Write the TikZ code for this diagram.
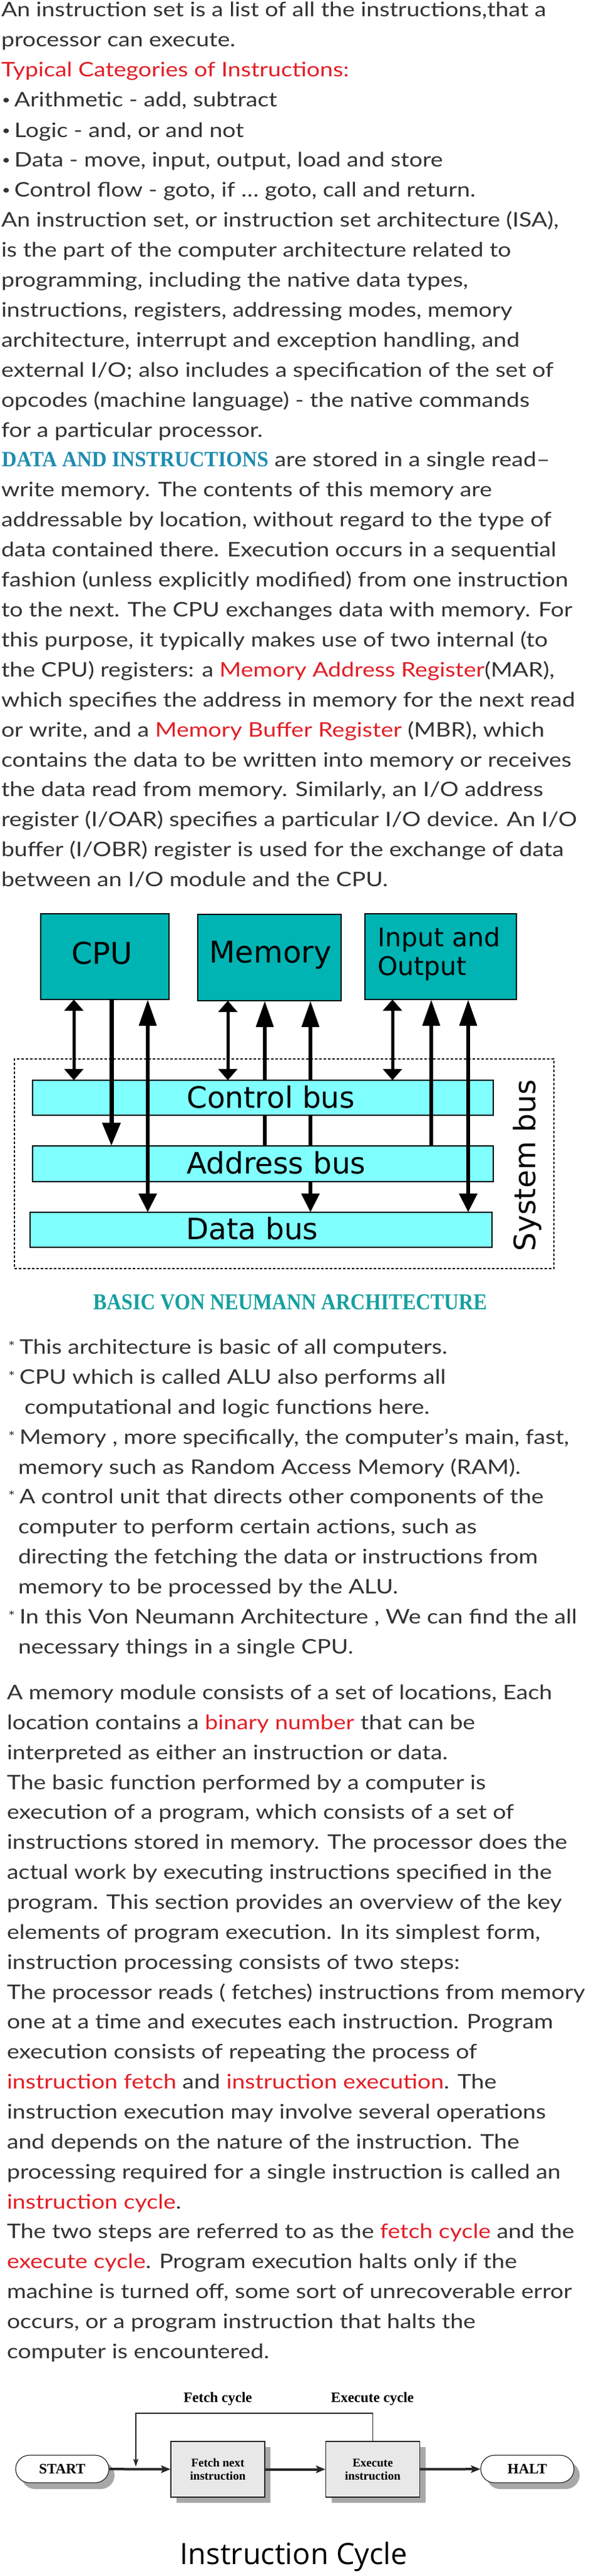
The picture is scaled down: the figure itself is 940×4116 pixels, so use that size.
\documentclass[tikz,border=0pt]{standalone}
\usepackage{graphicx}
\usepackage{fontspec}
\setmainfont{Lato}[FakeStretch=1.17]
\newfontfamily\stencilf{Liberation Serif}
\newfontfamily\dejavu{DejaVu Sans}
\newfontfamily\timesf{Liberation Serif}
\newfontfamily\osans{Open Sans}
\usetikzlibrary{arrows.meta,shadows}
\definecolor{body}{RGB}{51,51,51}
\definecolor{hl}{RGB}{226,30,38}
\definecolor{dblue}{RGB}{30,140,176}
\definecolor{cteal}{RGB}{22,160,160}
\definecolor{boxteal}{RGB}{0,180,180}
\definecolor{buscyan}{RGB}{128,255,255}
\definecolor{cyclefill}{RGB}{232,232,232}
\definecolor{shadowgray}{RGB}{168,168,168}
\definecolor{edgegray}{RGB}{40,40,40}
\pgfdeclarelayer{back}
\pgfsetlayers{back,main}
\newcommand\Ln[4]{\node[txt] (#1) at (#2,#3) {#4};}
\newcommand\hlt[1]{\textcolor{hl}{#1}}
\tikzset{
  shorttip/.tip={Triangle[length=18pt,width=30pt]},
  longtip/.tip={Triangle[length=42pt,width=27pt]},
  datatip/.tip={Triangle[length=30pt,width=28pt]},
  cputip/.tip={Triangle[length=37pt,width=28pt]},
  cyctip/.tip={Stealth[length=15pt,width=12pt,inset=3pt]},
  looptip/.tip={Stealth[length=12pt,width=8pt,inset=2pt]},
}
\begin{document}
\begin{tikzpicture}[x=1pt,y=-1pt,
  txt/.style={anchor=base west, inner sep=0pt, outer sep=0pt, text=body, font=\fontsize{32}{40}\selectfont},
  dot/.style={anchor=base west, inner sep=0pt, outer sep=0pt, text=body, font=\fontsize{20}{20}\selectfont},
  star/.style={anchor=base west, inner sep=0pt, outer sep=0pt, text=body, font=\fontsize{22}{22}\selectfont},
  topbox/.style={draw=black, line width=2pt, fill=boxteal, inner sep=0pt, outer sep=0pt, anchor=north west},
  busbox/.style={draw=black, line width=2pt, fill=buscyan, inner sep=0pt, outer sep=0pt, anchor=north west},
  djbig/.style={inner sep=0pt, text=black, font=\dejavu\fontsize{48}{56}\selectfont},
  djsmall/.style={inner sep=0pt, text=black, font=\dejavu\fontsize{41}{47}\selectfont, anchor=base west},
  buslbl/.style={inner sep=0pt, text=black, font=\dejavu\fontsize{47}{56}\selectfont, anchor=base west},
  shortln/.style={line width=5pt, shorttip-shorttip},
  arrowln/.style={line width=6.5pt},
  term/.style={draw=edgegray, line width=1.2pt, fill=white, rounded corners=22pt, minimum width=149pt, minimum height=44pt, inner sep=0pt, font=\timesf\bfseries\fontsize{23}{26}\selectfont,
     drop shadow={shadow xshift=9pt, shadow yshift=-10pt, fill=shadowgray, opacity=1}},
  proc/.style={draw=edgegray, line width=1.2pt, fill=cyclefill, minimum width=150pt, minimum height=89pt, inner sep=0pt, align=center, font=\timesf\bfseries\fontsize{19}{20.7}\selectfont,
     drop shadow={shadow xshift=9pt, shadow yshift=-9pt, fill=shadowgray, opacity=1}},
  cycln/.style={line width=4pt, draw=edgegray, -cyctip},
  loopln/.style={line width=1.6pt, draw=edgegray, -looptip},
  cyclab/.style={inner sep=0pt, anchor=base, font=\timesf\bfseries\fontsize{23}{26}\selectfont},
]
\useasboundingbox (0,0) rectangle (940,4116);
\begin{pgfonlayer}{back}
  \fill[white] (0,0) rectangle (940,4116);
\end{pgfonlayer}

% ---------- top text ----------
\Ln{a1}{2}{27}{An instruction set is a list of all the instructions,that a}
\Ln{a2}{2}{75}{processor can execute.}
\Ln{a3}{2}{123}{\hlt{Typical Categories of Instructions:}}
\node[dot] (d4) at (3,167) {•};
\Ln{a4}{23}{171}{Arithmetic - add, subtract}
\node[dot] (d5) at (3,215) {•};
\Ln{a5}{23}{219}{Logic - and, or and not}
\node[dot] (d6) at (3,262) {•};
\Ln{a6}{23}{266}{Data - move, input, output, load and store}
\node[dot] (d7) at (3,310) {•};
\Ln{a7}{23}{314}{Control flow - goto, if … goto, call and return.}
\Ln{a8}{2}{362}{An instruction set, or instruction set architecture (ISA),}
\Ln{a9}{2}{410}{is the part of the computer architecture related to}
\Ln{a10}{2}{458}{programming, including the native data types,}
\Ln{a11}{2}{506}{instructions, registers, addressing modes, memory}
\Ln{a12}{2}{554}{architecture, interrupt and exception handling, and}
\Ln{a13}{2}{602}{external I/O; also includes a specification of the set of}
\Ln{a14}{2}{650}{opcodes (machine language) - the native commands}
\Ln{a15}{2}{698}{for a particular processor.}
\Ln{a16}{3}{745}{{\color{dblue}\resizebox{426pt}{23pt}{\stencilf\bfseries DATA AND INSTRUCTIONS}} are stored in a single read–}
\Ln{a17}{2}{793}{write memory. The contents of this memory are}
\Ln{a18}{2}{841}{addressable by location, without regard to the type of}
\Ln{a19}{2}{889}{data contained there. Execution occurs in a sequential}
\Ln{a20}{2}{937}{fashion (unless explicitly modified) from one instruction}
\Ln{a21}{2}{985}{to the next. The CPU exchanges data with memory. For}
\Ln{a22}{2}{1033}{this purpose, it typically makes use of two internal (to}
\Ln{a23}{2}{1081}{the CPU) registers: a \hlt{Memory Address Register}(MAR),}
\Ln{a24}{2}{1129}{which specifies the address in memory for the next read}
\Ln{a25}{2}{1177}{or write, and a \hlt{Memory Buffer Register} (MBR), which}
\Ln{a26}{2}{1225}{contains the data to be written into memory or receives}
\Ln{a27}{2}{1272}{the data read from memory. Similarly, an I/O address}
\Ln{a28}{2}{1320}{register (I/OAR) specifies a particular I/O device. An I/O}
\Ln{a29}{2}{1368}{buffer (I/OBR) register is used for the exchange of data}
\Ln{a30}{2}{1416}{between an I/O module and the CPU.}

% ---------- von Neumann diagram ----------
\node[topbox, minimum width=205pt, minimum height=137pt] (cpu) at (65,1460) {};
\node[topbox, minimum width=229pt, minimum height=138pt] (mem) at (316,1461) {};
\node[topbox, minimum width=242pt, minimum height=137pt] (io) at (583,1460) {};
\node[djbig, anchor=base] (cputxt) at (163,1540) {CPU};
\node[djbig, anchor=base] (memtxt) at (432,1538) {Memory};
\node[djsmall] (iotxt1) at (603,1512) {Input and};
\node[djsmall] (iotxt2) at (603,1558) {Output};

\node[busbox, minimum width=736pt, minimum height=56pt] (ctrl) at (52,1726) {};
\node[busbox, minimum width=736pt, minimum height=57pt] (addr) at (52,1831) {};
\node[busbox, minimum width=738pt, minimum height=56pt] (data) at (48,1937) {};
\node[buslbl] (ctrltxt) at (298,1770) {Control bus};
\node[buslbl] (addrtxt) at (298,1875) {Address bus};
\node[buslbl] (datatxt) at (297,1980) {Data bus};
\node[inner sep=0pt, rotate=90, anchor=base, font=\dejavu\fontsize{47}{56}\selectfont] (systxt) at (855,1862) {System bus};

\coordinate (c1) at (118,0);
\coordinate (c2) at (178,0);
\coordinate (c3) at (236,0);
\coordinate (c4) at (364,0);
\coordinate (c5) at (423,0);
\coordinate (c6) at (496,0);
\coordinate (c7) at (627,0);
\coordinate (c8) at (689,0);
\coordinate (c9) at (748,0);

\begin{pgfonlayer}{back}
  \node[draw=black, line width=2.5pt, dash pattern=on 4pt off 3pt, minimum width=862pt, minimum height=335pt, inner sep=0pt, outer sep=0pt, anchor=north west] (sysframe) at (23,1692) {};
  \draw[arrowln, longtip-] (mem.south -| c5) -- (addr.north -| c5);
  \draw[arrowln, longtip-datatip] (mem.south -| c6) -- (data.north -| c6);
\end{pgfonlayer}

\draw[shortln] (cpu.south -| c1) -- (ctrl.north -| c1);
\draw[shortln] (mem.south -| c4) -- (ctrl.north -| c4);
\draw[shortln] (io.south -| c7) -- (ctrl.north -| c7);
\draw[line width=7pt, -cputip] (cpu.south -| c2) -- (addr.north -| c2);
\draw[arrowln, longtip-datatip] (cpu.south -| c3) -- (data.north -| c3);
\draw[arrowln, longtip-] (io.south -| c8) -- (addr.north -| c8);
\draw[arrowln, longtip-datatip] (io.south -| c9) -- (data.north -| c9);

\node[inner sep=0pt, anchor=base, text=cteal] (caption) at (463.5,2092) {\resizebox{629pt}{24pt}{\stencilf\bfseries BASIC VON NEUMANN ARCHITECTURE}};

% ---------- bullet list ----------
\node[star] (s1) at (13,2159) {*};
\Ln{b1}{31}{2163}{This architecture is basic of all computers.}
\node[star] (s2) at (13,2207) {*};
\Ln{b2}{31}{2211}{CPU which is called ALU also performs all}
\Ln{b3}{39}{2259}{computational and logic functions here.}
\node[star] (s3) at (13,2303) {*};
\Ln{b4}{31}{2307}{Memory , more specifically, the computer’s main, fast,}
\Ln{b5}{29}{2355}{memory such as Random Access Memory (RAM).}
\node[star] (s4) at (13,2398) {*};
\Ln{b6}{31}{2402}{A control unit that directs other components of the}
\Ln{b7}{29}{2450}{computer to perform certain actions, such as}
\Ln{b8}{29}{2498}{directing the fetching the data or instructions from}
\Ln{b9}{29}{2546}{memory to be processed by the ALU.}
\node[star] (s5) at (13,2590) {*};
\Ln{b10}{31}{2594}{In this Von Neumann Architecture , We can find the all}
\Ln{b11}{29}{2642}{necessary things in a single CPU.}

% ---------- paragraph ----------
\Ln{p1}{11}{2715}{A memory module consists of a set of locations, Each}
\Ln{p2}{11}{2763}{location contains a \hlt{binary number} that can be}
\Ln{p3}{11}{2811}{interpreted as either an instruction or data.}
\Ln{p4}{11}{2859}{The basic function performed by a computer is}
\Ln{p5}{11}{2906}{execution of a program, which consists of a set of}
\Ln{p6}{11}{2954}{instructions stored in memory. The processor does the}
\Ln{p7}{11}{3002}{actual work by executing instructions specified in the}
\Ln{p8}{11}{3050}{program. This section provides an overview of the key}
\Ln{p9}{11}{3098}{elements of program execution. In its simplest form,}
\Ln{p10}{11}{3146}{instruction processing consists of two steps:}
\Ln{p11}{11}{3194}{The processor reads ( fetches) instructions from memory}
\Ln{p12}{11}{3241}{one at a time and executes each instruction. Program}
\Ln{p13}{11}{3289}{execution consists of repeating the process of}
\Ln{p14}{11}{3337}{\hlt{instruction fetch} and \hlt{instruction execution}. The}
\Ln{p15}{11}{3385}{instruction execution may involve several operations}
\Ln{p16}{11}{3433}{and depends on the nature of the instruction. The}
\Ln{p17}{11}{3481}{processing required for a single instruction is called an}
\Ln{p18}{11}{3529}{\hlt{instruction cycle}.}
\Ln{p19}{11}{3576}{The two steps are referred to as the \hlt{fetch cycle} and the}
\Ln{p20}{11}{3624}{\hlt{execute cycle}. Program execution halts only if the}
\Ln{p21}{11}{3672}{machine is turned off, some sort of unrecoverable error}
\Ln{p22}{11}{3720}{occurs, or a program instruction that halts the}
\Ln{p23}{11}{3768}{computer is encountered.}

% ---------- instruction cycle ----------
\node[term] (start) at (99.5,3945) {START};
\node[proc] (fetch) at (348,3945.5) {Fetch next\\instruction};
\node[proc] (exec) at (595.5,3945.5) {Execute\\instruction};
\node[term] (halt) at (842.5,3945) {HALT};
\draw[cycln] (start) -- (fetch);
\draw[cycln] (fetch) -- (exec);
\draw[cycln] (exec) -- (halt);
\coordinate (lp1) at (217,3856);
\coordinate (lp2) at (217,3941);
\draw[loopln] (exec.north) |- (lp1) -- (lp2);
\node[cyclab] (fcl) at (348,3838) {Fetch cycle};
\node[cyclab] (ecl) at (595,3838) {Execute cycle};
\node[inner sep=0pt, anchor=base, font=\osans\fontsize{47}{56}\selectfont] (title) at (469.5,4097) {Instruction Cycle};
\end{tikzpicture}
\end{document}
